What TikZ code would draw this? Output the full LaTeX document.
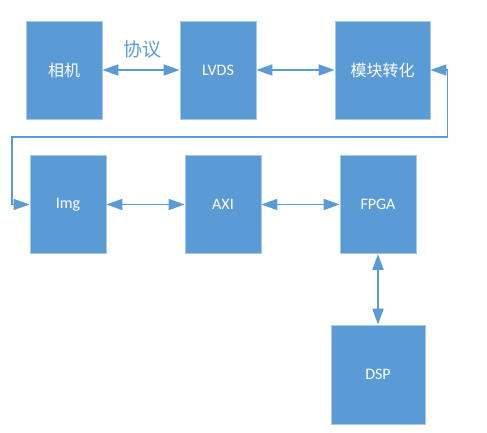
\documentclass[tikz,border=0pt]{standalone}
\usepackage{fontspec}
\setmainfont{Carlito}
\newfontfamily\cjk{Noto Sans CJK SC}
\usetikzlibrary{arrows.meta}
\definecolor{boxblue}{HTML}{5B9BD5}
\definecolor{boxedge}{HTML}{A9C8E8}
\tikzset{
  blk/.style={draw=boxedge, line width=0.8pt, fill=boxblue, text=white,
    minimum width=76pt, minimum height=98pt, inner sep=0pt,
    font=\fontsize{16}{18}\selectfont},
  link/.style={draw=boxblue, line width=1.8pt,
    {Triangle[length=16pt,width=11pt]}-{Triangle[length=16pt,width=11pt]}},
}

\begin{document}
\begin{tikzpicture}[x=1pt,y=-1pt]
	%%%%% START %%%%%
	\useasboundingbox (0,0) rectangle (487,433);
	
	% first row
	\node[blk] (cam) at (64,70) {\cjk 相机};
	\node[blk] (lvds) at (218,70) {LVDS};
	\node[blk, minimum width=95pt] (conv) at (382.5,70) {\cjk 模块转化};
	\node[text=boxblue, font=\cjk\fontsize{19}{21}\selectfont] (proto) at (142,49) {协议};
	
	% second row
	\node[blk] (img) at (68,204.5) {Img};
	\node[blk] (axi) at (223,204.5) {AXI};
	\node[blk] (fpga) at (378,204.5) {FPGA};
	
	\node[blk, minimum width=94pt, minimum height=99pt] (dsp) at (378,374.5) {DSP};
	
	\draw[link] (cam) -- (lvds);
	\draw[link] (lvds) -- (conv);
	\draw[link] (img) -- (axi);
	\draw[link] (axi) -- (fpga);
	\draw[link] (fpga) -- (dsp);
	
	% loop back
	\draw[link, line width=1.3pt] (conv.east) -- ++(17,0) |- (12,137) |- (img.west);
	
	%%%%% END %%%%%
\end{tikzpicture}
\end{document}
